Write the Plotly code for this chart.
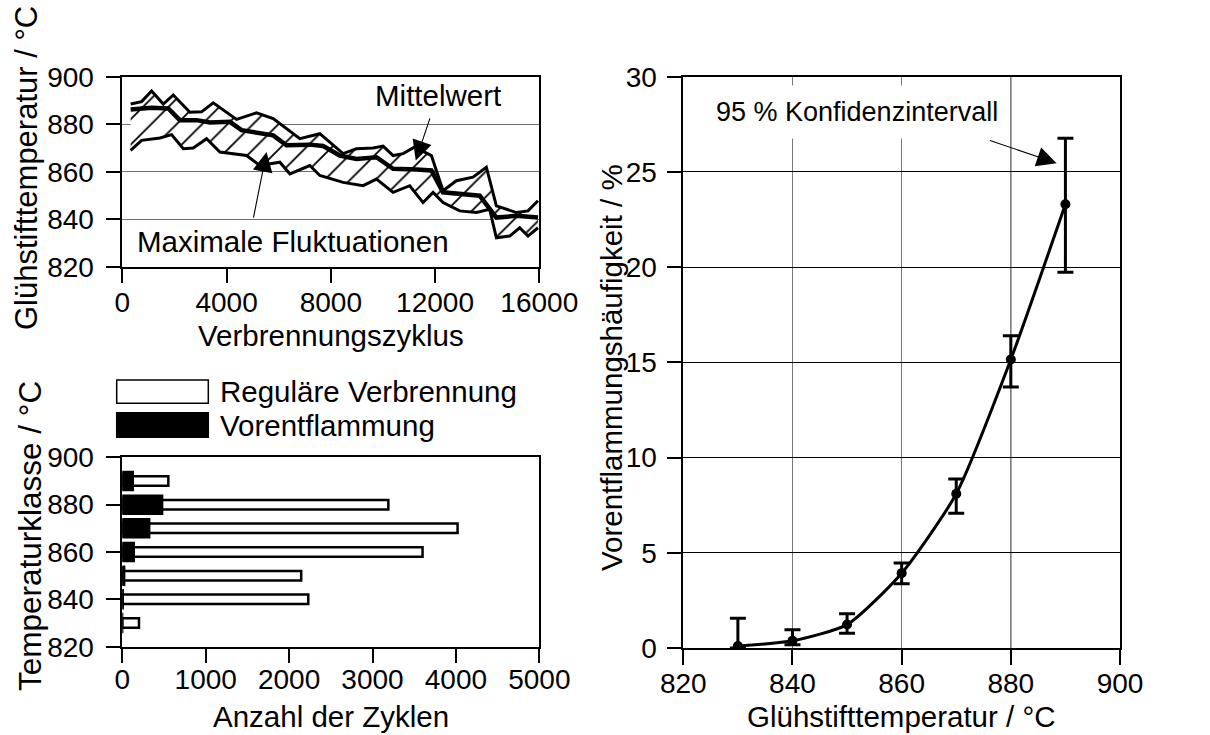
import plotly.graph_objects as go

FONT = "Liberation Sans, Arial, sans-serif"
TICK_SIZE = 28
TEXT_SIZE = 29.5

# --- Glühstifttemperatur über den Verbrennungszyklen ---
upper_cyc = [320, 741, 1125, 1572, 1955, 2594, 3042, 3489, 4384, 5150, 5790, 6812,
             7578, 8473, 8984, 9623, 10007, 10390, 10774, 11221, 11860, 12307,
             12818, 13457, 13969, 14352, 15119, 15566, 15950]
upper_temp = [888.5, 889.5, 894.0, 888.5, 892.3, 885.0, 885.2, 889.0, 882.0, 884.8,
              882.4, 873.9, 876.0, 867.6, 869.7, 870.0, 870.8, 866.8, 867.6, 870.4,
              866.8, 852.0, 856.2, 857.7, 861.9, 845.6, 842.8, 843.5, 847.8]

lower_cyc = [320, 741, 1444, 1891, 2339, 2722, 3233, 3745, 4767, 5278, 6045, 6428,
             7195, 7578, 8473, 9240, 9751, 10390, 11029, 11540, 11924, 12307, 12946,
             13585, 14096, 14352, 14863, 15247, 15566, 15950]
lower_temp = [869.0, 873.2, 874.2, 875.6, 869.7, 870.0, 873.9, 868.3, 866.8, 862.6,
              864.0, 859.1, 862.6, 858.4, 855.5, 854.1, 856.9, 851.3, 854.1, 847.0,
              851.3, 847.0, 843.5, 842.8, 844.2, 832.2, 832.9, 836.4, 832.9, 836.4]

mean_cyc = [320, 741, 1125, 1764, 2211, 2850, 3361, 4128, 4575, 5790, 6300, 7195,
            7706, 8345, 8984, 9751, 10390, 11285, 11860, 12307, 13074, 13713, 14352,
            15119, 15950]
mean_temp = [886.2, 886.4, 886.9, 886.6, 881.7, 881.7, 880.7, 881.0, 877.5, 875.3,
             871.1, 871.4, 870.8, 866.8, 865.4, 866.1, 861.2, 860.9, 860.5, 851.3,
             850.6, 849.9, 840.7, 841.4, 840.7]

# --- Häufigkeitsverteilung der Temperaturklassen ---
temp_class = [830, 840, 850, 860, 870, 880, 890]
regular_count = [200, 2230, 2145, 3600, 4020, 3190, 552]
preflame_count = [1, 8, 25, 140, 325, 480, 128]

# --- Vorentflammungshäufigkeit mit 95 % Konfidenzintervall ---
glow_temp = [830, 840, 850, 860, 870, 880, 890]
preflame_freq = [0.1, 0.38, 1.23, 3.93, 8.1, 15.15, 23.3]
ci_high = [1.56, 0.96, 1.8, 4.47, 8.87, 16.4, 26.77]
ci_low = [0.0, 0.17, 0.78, 3.37, 7.08, 13.7, 19.73]

err_plus = [h - f for h, f in zip(ci_high, preflame_freq)]
err_minus = [f - l for f, l in zip(preflame_freq, ci_low)]

W, H = 1210, 735


def px_x(p):
    return p / W


def px_y(p):
    return 1 - p / H


fig = go.Figure()

# hatched band between max and min fluctuation
fig.add_trace(go.Scatter(
    x=upper_cyc + lower_cyc[::-1], y=upper_temp + lower_temp[::-1],
    fill="toself", fillcolor="white",
    fillpattern=dict(shape="/", fgcolor="black", fgopacity=1, bgcolor="white",
                     size=18, solidity=0.1),
    line=dict(width=0), mode="lines", hoverinfo="skip", xaxis="x", yaxis="y"))
fig.add_trace(go.Scatter(x=upper_cyc, y=upper_temp, mode="lines",
                         line=dict(color="black", width=3), xaxis="x", yaxis="y"))
fig.add_trace(go.Scatter(x=lower_cyc, y=lower_temp, mode="lines",
                         line=dict(color="black", width=3), xaxis="x", yaxis="y"))
fig.add_trace(go.Scatter(x=mean_cyc, y=mean_temp, mode="lines",
                         line=dict(color="black", width=4.5), xaxis="x", yaxis="y"))

# bars
fig.add_trace(go.Bar(orientation="h", y=temp_class, x=regular_count, width=4,
                     marker=dict(color="white", line=dict(color="black", width=2.5)),
                     xaxis="x2", yaxis="y2"))
fig.add_trace(go.Bar(orientation="h", y=temp_class, x=preflame_count, width=7.8,
                     marker=dict(color="black", line=dict(color="black", width=2)),
                     xaxis="x2", yaxis="y2"))

# frequency curve
fig.add_trace(go.Scatter(
    x=glow_temp, y=preflame_freq, mode="lines+markers",
    line=dict(color="black", width=3, shape="spline", smoothing=0.6),
    marker=dict(color="black", size=10),
    error_y=dict(type="data", array=err_plus, arrayminus=err_minus,
                 color="black", thickness=3, width=8),
    xaxis="x3", yaxis="y3"))

tickfont = dict(family=FONT, size=TICK_SIZE, color="black")
common = dict(showline=True, linecolor="black", linewidth=1.5, mirror=True,
              ticks="outside", ticklen=15, tickwidth=1.5, tickcolor="black",
              tickfont=tickfont, zeroline=False, automargin=False,
              tickformat="d")

DX_L = [px_x(122.3), px_x(539.3)]
DX_R = [px_x(683.3), px_x(1120)]

fig.update_layout(
    width=W, height=H, margin=dict(l=0, r=0, t=0, b=0),
    paper_bgcolor="white", plot_bgcolor="white", showlegend=False,
    barmode="overlay", font=dict(family=FONT, color="black"),
    xaxis=dict(domain=DX_L, anchor="y", range=[0, 16000], tickvals=[0, 4000, 8000, 12000, 16000],
               showgrid=False, ticklabelstandoff=-5, **common),
    yaxis=dict(domain=[px_y(266.7), px_y(76.7)], anchor="x", range=[820, 900], dtick=20,
               showgrid=True, gridcolor="#6e6e6e", gridwidth=1, ticklabelstandoff=6, **common),
    xaxis2=dict(domain=DX_L, anchor="y2", range=[0, 5000], dtick=1000, showgrid=False,
                ticklabelstandoff=-8, **common),
    yaxis2=dict(domain=[px_y(646.7), px_y(457.3)], anchor="x2", range=[820, 900], dtick=20,
                showgrid=False, ticklabelstandoff=6, **common),
    xaxis3=dict(domain=DX_R, anchor="y3", range=[820, 900], dtick=20, showgrid=True,
                gridcolor="#7a7a7a", gridwidth=1, ticklabelstandoff=-5, **common),
    yaxis3=dict(domain=[px_y(648), px_y(76.7)], anchor="x3", range=[0, 30], dtick=5,
                showgrid=True, gridcolor="black", gridwidth=1, ticklabelstandoff=4, **common),
)

# darker grid line at 880 °C in the right panel
for gx in [880]:
    fig.add_shape(type="line", xref="x3", yref="y3", x0=gx, x1=gx, y0=0, y1=30,
                  line=dict(color="black", width=1), layer="below")

# axis titles
titles = [
    ("Verbrennungszyklus", 330.8, 336, 0, TEXT_SIZE),
    ("Anzahl der Zyklen", 330.8, 716, 0, TEXT_SIZE),
    ("Glühstifttemperatur / °C", 901.7, 716, 0, TEXT_SIZE),
    ("Glühstifttemperatur / °C", 27, 168, -90, 31),
    ("Temperaturklasse / °C", 30, 536, -90, 31.5),
    ("Vorentflammungshäufigkeit / %", 611, 368, -90, TEXT_SIZE),
]
for text, tx, ty, angle, size in titles:
    fig.add_annotation(xref="paper", yref="paper", x=px_x(tx), y=px_y(ty),
                       xanchor="center", yanchor="middle", textangle=angle,
                       text=text, showarrow=False,
                       font=dict(family=FONT, size=size, color="black"))

annot_font = dict(family=FONT, size=TEXT_SIZE, color="black")
arrow_style = dict(showarrow=True, arrowhead=2, arrowsize=3.6, arrowwidth=1.1,
                   arrowcolor="black", text="")

fig.add_annotation(x=12115, y=892, xref="x", yref="y", text="Mittelwert",
                   showarrow=False, font=annot_font)
fig.add_annotation(x=11259, y=864.7, ax=11822, ay=883.1, xref="x", yref="y",
                   axref="x", ayref="y", **arrow_style)
fig.add_annotation(x=6556, y=830.8, xref="x", yref="y", text="Maximale Fluktuationen",
                   showarrow=False, font=annot_font)
fig.add_annotation(x=5534, y=868.3, ax=5022, ay=840, xref="x", yref="y",
                   axref="x", ayref="y", **arrow_style)

fig.add_annotation(x=851.8, y=28.17, xref="x3", yref="y3", text="95 % Konfidenzintervall",
                   showarrow=False, bgcolor="white", borderpad=11,
                   font=dict(family=FONT, size=27, color="black"))
fig.add_annotation(x=888.4, y=25.46, ax=875.9, ay=26.68, xref="x3", yref="y3",
                   axref="x3", ayref="y3", **arrow_style)

# legend of the bar chart
legend_items = [("Reguläre Verbrennung", "white", 380, 403.3),
                ("Vorentflammung", "black", 412.7, 437.3)]
for label, color, top, bottom in legend_items:
    fig.add_shape(type="rect", xref="paper", yref="paper",
                  x0=px_x(116.7), x1=px_x(208.3), y0=px_y(bottom), y1=px_y(top),
                  fillcolor=color, line=dict(color="black", width=1.5))
    fig.add_annotation(xref="paper", yref="paper", x=px_x(218.3),
                       y=px_y((top + bottom) / 2), xanchor="left", yanchor="middle",
                       text=label, showarrow=False, font=annot_font)

fig.write_html("out.html")
